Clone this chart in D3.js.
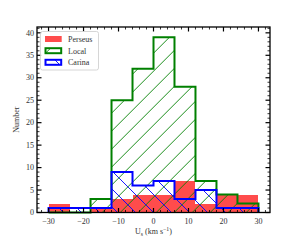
<!DOCTYPE html>
<html>
<head>
<meta charset="utf-8">
<script src="https://cdn.jsdelivr.net/npm/d3@7"></script>
<style>
  body { margin: 0; background: #fff; }
  svg { display: block; font-family: "Liberation Serif", "DejaVu Serif", serif; }
</style>
</head>
<body>
<script>
// bin edges (km/s) and counts per bin
const binEdges = [-30, -24, -18, -12, -6, 0, 6, 12, 18, 24, 30];
const perseus = [2, 0, 1, 3, 4, 4, 7, 2, 4, 4];
const local = [0, 0, 3, 25, 32, 39, 28, 7, 4, 2];
const carina = [1, 1, 1, 9, 6, 7, 3, 5, 1, 1];
const xTicks = [-30, -20, -10, 0, 10, 20, 30];
const yTicks = [0, 5, 10, 15, 20, 25, 30, 35, 40];
const legendNames = ["Perseus", "Local", "Carina"];

const W = 300, H = 240;
const pLeft = 37, pRight = 270, pTop = 27, pBottom = 212.5;
const fs = 8;

const svg = d3.select("body").append("svg")
  .attr("width", W).attr("height", H);

const x = d3.scaleLinear().domain([-33.3, 33.3]).range([pLeft, pRight]);
const y = d3.scaleLinear().domain([0, 41.3]).range([pBottom, pTop]);

// hatch patterns
const defs = svg.append("defs");
function hatch(id, color, dir, ox, oy) {
  const s = 18;
  const p = defs.append("pattern")
    .attr("id", id)
    .attr("patternUnits", "userSpaceOnUse")
    .attr("width", s).attr("height", s)
    .attr("x", ox).attr("y", oy);
  let segs;
  if (dir == "/")
    segs = [[0, s, s, 0], [-2, 2, 2, -2], [s - 2, s + 2, s + 2, s - 2]];
  else
    segs = [[0, 0, s, s], [-2, s - 2, 2, s + 2], [s - 2, -2, s + 2, 2]];
  for (let sg of segs) {
    p.append("line")
      .attr("x1", sg[0]).attr("y1", sg[1])
      .attr("x2", sg[2]).attr("y2", sg[3])
      .attr("stroke", color).attr("stroke-width", 0.9);
  }
}
hatch("hatchGreen", "#008000", "/", 8.7, 0);
hatch("hatchBlue", "#0000ff", "\\", 0, 5);

const plot = svg.append("g");

// Perseus filled bars
plot.selectAll("rect.perseus")
  .data(perseus)
  .enter().append("rect")
  .attr("class", "perseus")
  .attr("x", function(d, i) { return x(binEdges[i]); })
  .attr("width", function(d, i) { return x(binEdges[i + 1]) - x(binEdges[i]); })
  .attr("y", function(d) { return y(d); })
  .attr("height", function(d) { return y(0) - y(d); })
  .attr("fill", "#ff0000")
  .attr("fill-opacity", 0.7)
  .attr("shape-rendering", "crispEdges");

function stepPoints(vals) {
  let pts = [[binEdges[0], 0]];
  vals.forEach(function(v, i) {
    pts.push([binEdges[i], v]);
    pts.push([binEdges[i + 1], v]);
  });
  pts.push([binEdges[binEdges.length - 1], 0]);
  return pts;
}
const line = d3.line()
  .x(function(d) { return x(d[0]); })
  .y(function(d) { return y(d[1]); });

function drawStep(vals, color, pat) {
  const pts = stepPoints(vals);
  plot.append("path")
    .attr("d", line(pts) + "Z")
    .attr("fill", "url(#" + pat + ")")
    .attr("stroke", "none");
  plot.append("path")
    .attr("d", line(pts))
    .attr("fill", "none")
    .attr("stroke", color)
    .attr("stroke-width", 2)
    .attr("stroke-linejoin", "miter");
}
drawStep(local, "#008000", "hatchGreen");
drawStep(carina, "#0000ff", "hatchBlue");

// ticks (inward, all four sides)
const tk = svg.append("g").attr("stroke", "#000");
const xMinor = d3.range(-32, 33, 2).filter(function(v) { return v % 10 != 0; });
const yMinor = d3.range(1, 42, 1).filter(function(v) { return v % 5 != 0; });
for (let v of xTicks) {
  tk.append("line").attr("x1", x(v)).attr("x2", x(v)).attr("y1", pBottom).attr("y2", pBottom - 4.5).attr("stroke-width", 1.2);
  tk.append("line").attr("x1", x(v)).attr("x2", x(v)).attr("y1", pTop).attr("y2", pTop + 4.5).attr("stroke-width", 1.2);
}
for (let v of xMinor) {
  tk.append("line").attr("x1", x(v)).attr("x2", x(v)).attr("y1", pBottom).attr("y2", pBottom - 2.5).attr("stroke-width", 0.8);
  tk.append("line").attr("x1", x(v)).attr("x2", x(v)).attr("y1", pTop).attr("y2", pTop + 2.5).attr("stroke-width", 0.8);
}
for (let v of yTicks) {
  tk.append("line").attr("y1", y(v)).attr("y2", y(v)).attr("x1", pLeft).attr("x2", pLeft + 4.5).attr("stroke-width", 1.2);
  tk.append("line").attr("y1", y(v)).attr("y2", y(v)).attr("x1", pRight).attr("x2", pRight - 4.5).attr("stroke-width", 1.2);
}
for (let v of yMinor) {
  tk.append("line").attr("y1", y(v)).attr("y2", y(v)).attr("x1", pLeft).attr("x2", pLeft + 2.5).attr("stroke-width", 0.8);
  tk.append("line").attr("y1", y(v)).attr("y2", y(v)).attr("x1", pRight).attr("x2", pRight - 2.5).attr("stroke-width", 0.8);
}

// frame
svg.append("rect")
  .attr("x", pLeft).attr("y", pTop)
  .attr("width", pRight - pLeft).attr("height", pBottom - pTop)
  .attr("fill", "none").attr("stroke", "#000").attr("stroke-width", 1.3);

// tick labels
const fmt = function(v) { return v < 0 ? "\u2212" + Math.abs(v) : "" + v; };
svg.selectAll("text.xt")
  .data(xTicks)
  .enter().append("text")
  .attr("x", function(d) { return x(d); })
  .attr("y", pBottom + 11)
  .attr("text-anchor", "middle")
  .attr("font-size", fs)
  .attr("fill", "#333")
  .text(fmt);
svg.selectAll("text.yt")
  .data(yTicks)
  .enter().append("text")
  .attr("x", pLeft - 3)
  .attr("y", function(d) { return y(d) + 2.7; })
  .attr("text-anchor", "end")
  .attr("font-size", fs)
  .attr("fill", "#333")
  .text(fmt);

// axis labels
const xl = svg.append("text")
  .attr("x", (pLeft + pRight) / 2)
  .attr("y", 234)
  .attr("text-anchor", "middle")
  .attr("font-size", fs)
  .attr("fill", "#333");
xl.append("tspan").text("U");
xl.append("tspan").attr("font-size", 5.8).attr("dy", 1.5).text("s");
xl.append("tspan").attr("dy", -1.5).text("\u00a0(km\u00a0s");
xl.append("tspan").attr("font-size", 5.8).attr("dy", -3).text("\u22121");
xl.append("tspan").attr("dy", 3).text(")");

svg.append("text")
  .attr("transform", "translate(19," + ((pTop + pBottom) / 2) + ") rotate(-90)")
  .attr("text-anchor", "middle")
  .attr("font-size", fs)
  .attr("fill", "#333")
  .text("Number");

// legend
const lg = svg.append("g");
lg.append("rect")
  .attr("x", 40.5).attr("y", 31.5)
  .attr("width", 58).attr("height", 38.5)
  .attr("rx", 2)
  .attr("fill", "#fff").attr("fill-opacity", 0.8)
  .attr("stroke", "#ccc").attr("stroke-width", 0.8);
const legendY = [36, 47.7, 59.3];
lg.append("rect")
  .attr("x", 45).attr("y", legendY[0]).attr("width", 16.7).attr("height", 6)
  .attr("fill", "#ff0000").attr("fill-opacity", 0.7);
lg.append("rect")
  .attr("x", 45.5).attr("y", legendY[1] + 0.5).attr("width", 15.7).attr("height", 5)
  .attr("fill", "url(#hatchGreen)").attr("stroke", "#008000").attr("stroke-width", 2);
lg.append("rect")
  .attr("x", 45.5).attr("y", legendY[2] + 0.5).attr("width", 15.7).attr("height", 5)
  .attr("fill", "url(#hatchBlue)").attr("stroke", "#0000ff").attr("stroke-width", 2);
legendNames.forEach(function(n, i) {
  lg.append("text")
    .attr("x", 68).attr("y", legendY[i] + 5.8)
    .attr("font-size", fs)
    .attr("fill", "#333")
    .text(n);
});
</script>
</body>
</html>
